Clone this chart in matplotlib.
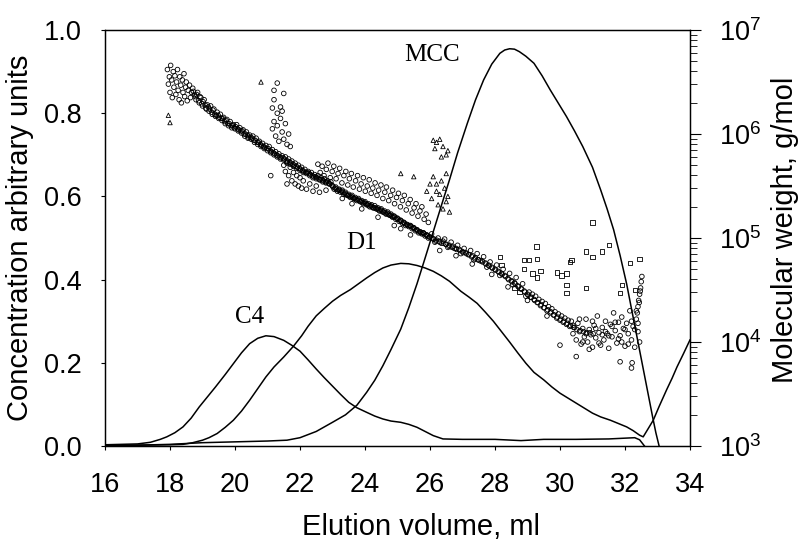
import matplotlib
matplotlib.use('Agg')
import numpy as np
import matplotlib.pyplot as plt
from matplotlib.ticker import LogLocator, NullFormatter, LogFormatterSciNotation

plt.rcParams['font.family'] = ['Liberation Sans', 'DejaVu Sans']
plt.rcParams['mathtext.fontset'] = 'custom'
plt.rcParams['mathtext.rm'] = 'Liberation Sans'
plt.rcParams['mathtext.it'] = 'Liberation Sans:italic'
plt.rcParams['mathtext.bf'] = 'Liberation Sans:bold'

# concentration traces, elution volume [ml] vs arbitrary units
c4_ml = [16.0, 16.5, 17.0, 17.4, 17.7, 17.9, 18.15, 18.4, 18.65, 18.9, 19.15, 19.4, 19.7, 19.95,
         20.2, 20.45, 20.7, 20.95, 21.2, 21.5, 21.75, 22.0, 22.25, 22.5, 22.75, 23.0, 23.25,
         23.5, 23.75, 24.05, 24.3, 24.55, 24.8, 25.1, 25.35, 25.6, 25.85, 26.1, 26.4, 27.0,
         28.0, 28.8, 29.5, 30.5, 31.5, 32.3, 32.45, 32.6]
c4_conc = [0.003, 0.004, 0.005, 0.009, 0.016, 0.022, 0.032, 0.046, 0.067, 0.094, 0.118, 0.142,
           0.172, 0.198, 0.224, 0.246, 0.259, 0.265, 0.263, 0.254, 0.242, 0.228, 0.207, 0.185,
           0.164, 0.144, 0.124, 0.105, 0.092, 0.081, 0.072, 0.065, 0.060, 0.057, 0.052, 0.045,
           0.035, 0.025, 0.017, 0.016, 0.016, 0.013, 0.016, 0.016, 0.017, 0.020, 0.015, 0.0]

d1_ml = [16.0, 17.0, 18.0, 18.4, 18.7, 19.0, 19.2, 19.45, 19.7, 19.95, 20.2, 20.45, 20.7, 20.95,
         21.2, 21.5, 21.8, 22.05, 22.25, 22.5, 22.75, 23.0, 23.25, 23.55, 23.8, 24.05, 24.3,
         24.55, 24.8, 25.1, 25.35, 25.6, 25.85, 26.1, 26.35, 26.6, 26.95, 27.2, 27.45, 27.7,
         27.95, 28.2, 28.45, 28.7, 28.95, 29.2, 29.5, 29.75, 30.0, 30.25, 30.5, 30.75, 31.0,
         31.25, 31.55, 31.8, 32.05, 32.25, 32.45, 32.56, 32.7, 32.87, 33.05, 33.28, 33.45,
         33.6, 33.8, 34.0]
d1_conc = [0.002, 0.002, 0.003, 0.004, 0.008, 0.014, 0.020, 0.030, 0.045, 0.062, 0.084, 0.110,
           0.138, 0.166, 0.190, 0.214, 0.240, 0.265, 0.288, 0.313, 0.331, 0.348, 0.362, 0.376,
           0.390, 0.404, 0.417, 0.428, 0.435, 0.439, 0.438, 0.434, 0.428, 0.420, 0.409, 0.396,
           0.372, 0.358, 0.343, 0.322, 0.300, 0.275, 0.250, 0.224, 0.199, 0.177, 0.159, 0.142,
           0.127, 0.115, 0.103, 0.091, 0.079, 0.070, 0.062, 0.054, 0.046, 0.037, 0.026, 0.022,
           0.040, 0.062, 0.095, 0.135, 0.163, 0.190, 0.222, 0.255]

mcc_ml = [16.0, 17.0, 18.0, 18.5, 19.0, 20.0, 21.0, 21.6, 22.0, 22.5, 23.0, 23.4, 23.75, 24.05,
          24.3, 24.55, 24.8, 25.1, 25.35, 25.6, 25.85, 26.1, 26.35, 26.6, 26.85, 27.15, 27.4,
          27.65, 27.9, 28.15, 28.3, 28.45, 28.6, 28.75, 28.95, 29.2, 29.45, 29.7, 29.95, 30.2,
          30.45, 30.7, 31.0, 31.25, 31.45, 31.65, 31.85, 32.05, 32.2, 32.35, 32.5, 32.65, 32.75,
          32.85, 32.95, 33.05]
mcc_conc = [0.0, 0.002, 0.004, 0.006, 0.008, 0.010, 0.012, 0.014, 0.020, 0.035, 0.057, 0.075,
            0.098, 0.129, 0.158, 0.193, 0.232, 0.281, 0.333, 0.390, 0.452, 0.515, 0.578, 0.640,
            0.705, 0.776, 0.832, 0.880, 0.918, 0.944, 0.952, 0.955, 0.954, 0.948, 0.937, 0.920,
            0.890, 0.856, 0.824, 0.792, 0.757, 0.720, 0.670, 0.616, 0.570, 0.520, 0.458, 0.390,
            0.330, 0.270, 0.210, 0.150, 0.110, 0.070, 0.032, 0.0]

# molar mass points (ml, log10 M)
mw_band = [
    (17.92, 6.62), (17.95, 6.48), (17.98, 6.55), (18.00, 6.40), (18.02, 6.66), (18.05, 6.52),
    (18.07, 6.35), (18.10, 6.60), (18.12, 6.45), (18.15, 6.56), (18.18, 6.38), (18.20, 6.50),
    (18.23, 6.62), (18.25, 6.42), (18.28, 6.33), (18.30, 6.55), (18.33, 6.47), (18.35, 6.30),
    (18.38, 6.52), (18.40, 6.40), (18.43, 6.58), (18.45, 6.36), (18.48, 6.45), (18.50, 6.50),
    (18.53, 6.32), (18.56, 6.42), (18.60, 6.47), (18.63, 6.35), (18.66, 6.40), (18.70, 6.44),
    (18.75, 6.38), (18.80, 6.33), (18.85, 6.40), (18.90, 6.30), (18.95, 6.35), (19.00, 6.27),
    (19.05, 6.33), (19.10, 6.25), (19.15, 6.28), (19.20, 6.22), (19.25, 6.27), (19.30, 6.19),
    (19.35, 6.24), (19.40, 6.17), (19.45, 6.21), (19.50, 6.15), (19.55, 6.19), (19.60, 6.13),
    (19.65, 6.16), (19.70, 6.10), (19.75, 6.14), (19.80, 6.08), (19.85, 6.12), (19.90, 6.06),
    (19.95, 6.09), (20.00, 6.05), (20.05, 6.09), (20.10, 6.03), (20.15, 6.06), (20.20, 6.01),
    (20.25, 6.04), (20.30, 5.98), (20.35, 6.02), (20.40, 5.96), (20.45, 5.99), (20.50, 5.95),
    (20.55, 5.98), (20.60, 5.92), (20.65, 5.96), (20.70, 5.90), (20.75, 5.93), (20.80, 5.88),
    (20.85, 5.91), (20.90, 5.86), (20.95, 5.89), (21.00, 5.84), (21.05, 5.88), (21.10, 5.82),
    (21.15, 5.85), (21.20, 5.80), (21.25, 5.83), (21.30, 5.78), (21.35, 5.81), (21.40, 5.76),
    (21.45, 5.79), (21.50, 5.75), (21.55, 5.78), (21.60, 5.73), (21.65, 5.76), (21.70, 5.71),
    (21.75, 5.74), (21.80, 5.69), (21.85, 5.72), (21.90, 5.67), (21.95, 5.70), (22.00, 5.65),
    (22.05, 5.68), (22.10, 5.63), (22.15, 5.66), (22.20, 5.62), (22.25, 5.64), (22.30, 5.60),
    (22.35, 5.63), (22.40, 5.58), (22.45, 5.61), (22.50, 5.57), (22.55, 5.60), (22.60, 5.56),
    (22.65, 5.58), (22.70, 5.54), (22.75, 5.57), (22.80, 5.53), (22.85, 5.55), (22.90, 5.52),
    (22.95, 5.54), (23.00, 5.50), (23.05, 5.47), (23.10, 5.49), (23.15, 5.45), (23.20, 5.47),
    (23.25, 5.44), (23.30, 5.46), (23.35, 5.42), (23.40, 5.44), (23.45, 5.41), (23.50, 5.42),
    (23.55, 5.39), (23.60, 5.41), (23.65, 5.38), (23.70, 5.39), (23.75, 5.36), (23.80, 5.38),
    (23.85, 5.35), (23.90, 5.36), (23.95, 5.33), (24.00, 5.35), (24.05, 5.32), (24.10, 5.33),
    (24.15, 5.30), (24.20, 5.32), (24.25, 5.29), (24.30, 5.31), (24.35, 5.28), (24.40, 5.29),
    (24.45, 5.26), (24.50, 5.28), (24.55, 5.25), (24.60, 5.26), (24.65, 5.23), (24.70, 5.25),
    (24.75, 5.22), (24.80, 5.23), (24.85, 5.20), (24.90, 5.21), (24.95, 5.18), (25.00, 5.19),
    (25.05, 5.16), (25.10, 5.17), (25.15, 5.14), (25.20, 5.15), (25.25, 5.12), (25.30, 5.13),
    (25.35, 5.11), (25.40, 5.12), (25.45, 5.09), (25.50, 5.10), (25.55, 5.07), (25.60, 5.08),
    (25.65, 5.05), (25.70, 5.06), (25.75, 5.04), (25.80, 5.05), (25.85, 5.02), (25.90, 5.03),
    (25.95, 5.00), (26.00, 5.01), (26.10, 4.99), (26.20, 4.98), (26.30, 4.96), (26.40, 4.97),
    (26.50, 4.94), (26.60, 4.93), (26.70, 4.92), (26.80, 4.90), (26.90, 4.89), (27.00, 4.87),
    (27.10, 4.86), (27.20, 4.84), (27.30, 4.83), (27.40, 4.81), (27.50, 4.79), (27.60, 4.78),
    (27.70, 4.76), (27.80, 4.74), (27.90, 4.72), (28.00, 4.70), (28.10, 4.68), (28.20, 4.66),
    (28.30, 4.64), (28.40, 4.61), (28.50, 4.59), (28.60, 4.57), (28.70, 4.54), (28.80, 4.51),
    (28.90, 4.49), (29.00, 4.46), (26.05, 5.04), (26.25, 5.00), (26.45, 4.99), (26.65, 4.96),
    (26.85, 4.93), (27.05, 4.90), (27.25, 4.88), (27.45, 4.85), (27.65, 4.82), (27.85, 4.77),
    (28.05, 4.74), (28.25, 4.70), (28.45, 4.66), (28.65, 4.62), (28.85, 4.56), (26.15, 4.96),
    (26.55, 4.91), (26.95, 4.85), (27.35, 4.79), (27.75, 4.72), (28.15, 4.64), (28.55, 4.55),
    (28.95, 4.44), (29.05, 4.48), (29.10, 4.43), (29.15, 4.46), (29.20, 4.41), (29.25, 4.44),
    (29.30, 4.38), (29.35, 4.41), (29.40, 4.35), (29.45, 4.39), (29.50, 4.33), (29.55, 4.37),
    (29.60, 4.30), (29.65, 4.34), (29.70, 4.28), (29.75, 4.32), (29.80, 4.26), (29.85, 4.29),
    (29.90, 4.23), (29.95, 4.27), (30.00, 4.21), (30.05, 4.25), (30.10, 4.19), (30.15, 4.23),
    (30.20, 4.17), (30.25, 4.21), (30.30, 4.15),
]

# dense core of the band
mw_core = [
    (18.72, 6.41), (18.78, 6.36), (18.82, 6.38), (18.88, 6.32), (18.92, 6.36), (18.98, 6.29),
    (19.02, 6.31), (19.08, 6.28), (19.12, 6.24), (19.18, 6.26), (19.22, 6.24), (19.28, 6.21),
    (19.32, 6.23), (19.38, 6.19), (19.42, 6.18), (19.48, 6.18), (19.52, 6.16), (19.58, 6.15),
    (19.62, 6.15), (19.68, 6.12), (19.72, 6.13), (19.78, 6.10), (19.82, 6.10), (19.88, 6.08),
    (19.92, 6.08), (19.98, 6.06), (20.02, 6.07), (20.08, 6.05), (20.12, 6.04), (20.18, 6.03),
    (20.22, 6.03), (20.28, 6.00), (20.32, 6.00), (20.38, 5.99), (20.42, 5.97), (20.48, 5.97),
    (20.52, 5.96), (20.58, 5.94), (20.62, 5.94), (20.68, 5.92), (20.72, 5.92), (20.78, 5.90),
    (20.82, 5.89), (20.88, 5.88), (20.92, 5.87), (20.98, 5.86), (21.02, 5.86), (21.08, 5.84),
    (21.12, 5.83), (21.18, 5.82), (21.22, 5.81), (21.28, 5.80), (21.32, 5.79), (21.38, 5.78),
    (21.42, 5.77), (21.48, 5.77), (21.52, 5.76), (21.58, 5.74), (21.62, 5.74), (21.68, 5.73),
    (21.72, 5.72), (21.78, 5.71), (21.82, 5.70), (21.88, 5.69), (21.92, 5.68), (21.98, 5.67),
    (22.02, 5.66), (22.08, 5.65), (22.12, 5.64), (22.18, 5.63), (22.22, 5.63), (22.28, 5.62),
    (22.32, 5.61), (22.38, 5.60), (22.42, 5.59), (22.48, 5.59), (22.52, 5.58), (22.58, 5.57),
    (22.62, 5.56), (22.68, 5.56), (22.72, 5.55), (22.78, 5.54), (22.82, 5.54), (22.88, 5.53),
    (22.92, 5.52), (22.98, 5.51), (23.02, 5.49), (23.08, 5.48), (23.12, 5.47), (23.18, 5.46),
    (23.22, 5.46), (23.28, 5.45), (23.32, 5.44), (23.38, 5.43), (23.42, 5.42), (23.48, 5.41),
    (23.52, 5.40), (23.58, 5.40), (23.62, 5.39), (23.68, 5.38), (23.72, 5.37), (23.78, 5.37),
    (23.82, 5.36), (23.88, 5.35), (23.92, 5.34), (23.98, 5.34), (24.02, 5.33), (24.08, 5.32),
    (24.12, 5.31), (24.18, 5.31), (24.22, 5.30), (24.28, 5.29), (24.32, 5.29), (24.38, 5.28),
    (24.42, 5.27), (24.48, 5.27), (24.52, 5.26), (24.58, 5.25), (24.62, 5.24), (24.68, 5.24),
    (24.72, 5.23), (24.78, 5.22), (24.82, 5.21), (24.88, 5.21), (24.92, 5.20), (24.98, 5.19),
    (25.02, 5.18), (25.08, 5.17), (25.12, 5.16), (25.18, 5.15), (25.22, 5.14), (25.28, 5.13),
    (25.32, 5.12), (25.38, 5.12), (25.42, 5.11), (25.48, 5.10), (25.52, 5.09), (25.58, 5.08),
    (25.62, 5.07), (25.68, 5.06), (25.72, 5.05), (25.78, 5.05), (25.82, 5.04), (25.88, 5.03),
    (25.92, 5.02), (25.98, 5.01), (26.05, 5.00), (26.12, 4.99), (26.18, 4.97), (26.28, 4.97),
    (26.35, 4.95), (26.42, 4.95), (26.48, 4.94), (26.58, 4.92), (26.68, 4.91), (26.75, 4.90),
    (26.82, 4.89), (26.92, 4.88), (27.02, 4.86), (27.12, 4.85), (27.18, 4.84), (27.28, 4.82),
    (27.38, 4.80), (27.48, 4.79), (27.55, 4.78), (27.62, 4.77), (27.72, 4.75), (27.82, 4.73),
    (27.92, 4.71), (28.02, 4.69), (28.12, 4.67), (28.22, 4.65), (28.32, 4.63), (28.42, 4.60),
    (28.52, 4.58), (28.62, 4.56), (28.72, 4.53), (28.82, 4.51), (28.92, 4.48), (29.02, 4.45),
    (29.12, 4.43), (29.22, 4.40), (29.32, 4.38), (29.42, 4.36), (29.52, 4.33), (29.62, 4.31),
    (29.72, 4.29), (29.82, 4.26), (29.92, 4.24), (30.02, 4.22), (30.12, 4.20), (30.22, 4.18),
    (30.32, 4.16), (30.42, 4.14), (30.52, 4.12), (30.62, 4.11), (30.72, 4.10), (30.82, 4.09),
    (30.92, 4.09), (31.02, 4.08),
]

mw_spur = [
    (21.15, 6.05), (21.20, 6.12), (21.25, 5.98), (21.30, 6.08), (21.35, 5.93), (21.40, 6.15),
    (21.45, 6.02), (21.50, 5.95), (21.55, 6.10), (21.60, 5.90), (21.65, 6.00), (21.70, 5.88),
    (21.30, 6.20), (21.45, 6.22), (21.20, 6.42), (21.30, 6.49), (21.50, 6.39), (21.20, 6.33),
    (21.40, 6.26), (21.15, 6.25), (21.10, 5.60),
]

mw_cloud = [
    (21.50, 5.70), (21.55, 5.64), (21.60, 5.72), (21.65, 5.60), (21.70, 5.68), (21.75, 5.55),
    (21.80, 5.63), (21.85, 5.52), (21.90, 5.60), (21.95, 5.50), (22.00, 5.58), (22.05, 5.48),
    (22.10, 5.55), (22.20, 5.47), (22.30, 5.52), (22.40, 5.45), (22.50, 5.50), (22.60, 5.44),
    (21.60, 5.52), (22.55, 5.71), (22.62, 5.63), (22.68, 5.69), (22.74, 5.60), (22.81, 5.66),
    (22.86, 5.72), (22.93, 5.58), (22.99, 5.64), (23.04, 5.69), (23.11, 5.57), (23.17, 5.62),
    (23.22, 5.67), (23.29, 5.53), (23.35, 5.60), (23.41, 5.64), (23.47, 5.51), (23.52, 5.57),
    (23.58, 5.62), (23.64, 5.49), (23.71, 5.55), (23.77, 5.60), (23.83, 5.47), (23.88, 5.52),
    (23.95, 5.58), (24.01, 5.45), (24.07, 5.50), (24.13, 5.56), (24.19, 5.43), (24.24, 5.48),
    (24.31, 5.53), (24.37, 5.41), (24.42, 5.46), (24.49, 5.51), (24.55, 5.38), (24.61, 5.44),
    (24.66, 5.49), (24.73, 5.36), (24.79, 5.41), (24.85, 5.46), (24.91, 5.33), (24.97, 5.39),
    (25.03, 5.43), (25.09, 5.30), (25.15, 5.36), (25.21, 5.41), (25.27, 5.27), (25.33, 5.33),
    (25.39, 5.37), (25.45, 5.24), (25.51, 5.29), (25.57, 5.33), (25.63, 5.21), (25.69, 5.26),
    (25.75, 5.30), (25.82, 5.18), (25.88, 5.23), (25.95, 5.15), (23.30, 5.38), (23.90, 5.28),
    (24.40, 5.20), (24.90, 5.12), (25.40, 5.03), (22.80, 5.46), (26.30, 4.88), (26.80, 4.83),
    (27.30, 4.75), (27.90, 4.65), (28.40, 4.53), (29.00, 4.40), (29.60, 4.25), (23.60, 5.33),
    (25.10, 5.09),
]

mw_tail = [
    (30.35, 4.20), (30.40, 4.08), (30.45, 4.14), (30.50, 4.02), (30.55, 4.18), (30.60, 4.10),
    (30.65, 3.98), (30.70, 4.13), (30.75, 4.05), (30.80, 4.22), (30.85, 4.00), (30.90, 4.12),
    (30.95, 4.07), (31.00, 3.95), (31.05, 4.16), (31.10, 4.04), (31.15, 4.25), (31.20, 4.09),
    (31.25, 3.97), (31.30, 4.14), (31.35, 4.02), (31.40, 4.20), (31.45, 4.08), (31.50, 3.94),
    (31.55, 4.17), (31.60, 4.05), (31.65, 4.28), (31.70, 4.11), (31.75, 3.99), (31.80, 4.19),
    (31.85, 4.06), (31.90, 4.24), (31.95, 4.13), (32.00, 3.96), (32.05, 4.18), (32.10, 4.08),
    (32.15, 4.30), (32.20, 4.02), (32.25, 4.15), (32.30, 3.95), (32.35, 4.22), (32.40, 4.10),
    (32.45, 4.00), (32.30, 4.12), (30.40, 4.16), (30.60, 4.22), (30.80, 4.08), (31.00, 4.20),
    (31.20, 3.99), (31.40, 4.10), (31.60, 4.15), (31.80, 4.03), (32.00, 4.12), (32.20, 4.20),
    (30.70, 4.00), (31.10, 4.13), (31.50, 4.06), (31.90, 4.00), (32.40, 4.18), (30.90, 3.93),
    (31.30, 4.07), (31.70, 4.19), (32.10, 3.98), (32.38, 4.28), (32.40, 4.34), (32.42, 4.40),
    (32.45, 4.46), (32.48, 4.52), (32.50, 4.58), (32.52, 4.63), (32.35, 4.30), (32.44, 4.38),
    (32.47, 4.49), (30.00, 3.97), (30.50, 3.86), (31.85, 3.81), (32.20, 3.75), (32.22, 3.80),
]

mw_tri = [
    (26.10, 5.94), (26.20, 5.92), (26.30, 5.95), (26.15, 5.86), (26.40, 5.88), (26.50, 5.80),
    (26.55, 5.84), (26.35, 5.78), (25.10, 5.62), (25.50, 5.59), (26.10, 5.59), (26.20, 5.52),
    (26.35, 5.55), (26.45, 5.48), (26.30, 5.42), (26.50, 5.35), (26.40, 5.28), (26.20, 5.45),
    (26.05, 5.38), (26.60, 5.25), (26.25, 5.32), (25.90, 5.45), (26.00, 5.52), (26.50, 5.62),
    (26.55, 5.40), (18.00, 6.11), (17.95, 6.18), (20.80, 6.50),
]

mw_sq = [
    (28.15, 4.82), (28.20, 4.74), (28.90, 4.79), (29.05, 4.79), (29.30, 4.80), (28.90, 4.70),
    (29.15, 4.66), (29.30, 4.62), (29.40, 4.68), (29.90, 4.67), (30.05, 4.64), (30.20, 4.66),
    (30.20, 4.55), (30.20, 4.47), (30.80, 4.52), (30.30, 4.77), (30.80, 4.87), (31.00, 4.82),
    (31.30, 4.87), (31.50, 4.93), (31.85, 4.47), (32.15, 4.76), (32.45, 4.80), (28.60, 4.52),
    (28.75, 4.48), (29.28, 4.92), (31.00, 5.15), (30.35, 4.79), (32.30, 4.50), (31.90, 4.55),
]

labels = ['C4', 'D1', 'MCC']
label_pos = [(20.46, 0.31), (23.88, 0.488), (26.06, 0.94)]

fig = plt.figure(figsize=(8.01, 5.42), dpi=100)
ax = fig.add_axes([0.1311, 0.1771, 0.7303, 0.7675])
ax2 = ax.twinx()

for xs, ys in [(c4_ml, c4_conc), (d1_ml, d1_conc), (mcc_ml, mcc_conc)]:
    ax.plot(xs, ys, '-k', linewidth=1.1)

for txt, (tx, ty) in zip(labels, label_pos):
    ax.text(tx, ty, txt, fontsize=18, family=['Liberation Serif', 'DejaVu Serif'],
            ha='center', va='center')

def pts(lst):
    a = np.array(lst)
    return a[:, 0], 10 ** a[:, 1]

for grp in [mw_band, mw_core, mw_spur, mw_cloud, mw_tail]:
    x, m = pts(grp)
    ax2.scatter(x, m, s=11, marker='o', facecolors='none', edgecolors='k', linewidths=0.6)
x, m = pts(mw_tri)
ax2.scatter(x, m, s=10, marker='^', facecolors='none', edgecolors='k', linewidths=0.6)
x, m = pts(mw_sq)
ax2.scatter(x, m, s=10, marker='s', facecolors='none', edgecolors='k', linewidths=0.6)

ax.set_xlim(16, 34)
ax.set_ylim(0, 1.0)
ax.set_xticks(np.arange(16, 35, 2))
ax.set_yticks(np.arange(0, 1.01, 0.2))
ax.set_yticklabels(['%.1f' % v for v in np.arange(0, 1.01, 0.2)])
ax.tick_params(axis='both', direction='out', length=3, width=0.8, labelsize=19.5)
ax.tick_params(axis='x', pad=16)
ax.tick_params(axis='y', pad=14)

ax2.set_yscale('log')
ax2.set_ylim(1e3, 1e7)
ax2.yaxis.set_major_locator(LogLocator(base=10))
ax2.yaxis.set_major_formatter(LogFormatterSciNotation())
ax2.yaxis.set_minor_locator(LogLocator(base=10, subs=np.arange(2, 10)))
ax2.yaxis.set_minor_formatter(NullFormatter())
ax2.tick_params(which='major', direction='out', length=8, width=0.8, labelsize=19.5, pad=13)
ax2.tick_params(which='minor', direction='out', length=5, width=0.6)

for a in (ax, ax2):
    for s in a.spines.values():
        s.set_linewidth(0.9)

fig.text(421 / 801, 1 - 527 / 542, 'Elution volume, ml', fontsize=21, ha='center', va='center')
fig.text(20 / 801, 1 - 238 / 542, 'Concentration arbitrary units', fontsize=21,
         rotation=90, ha='center', va='center')
fig.text(785 / 801, 1 - 230 / 542, 'Molecular weight, g/mol', fontsize=21,
         rotation=90, ha='center', va='center')

fig.savefig('out.png', dpi=100)
plt.close(fig)
